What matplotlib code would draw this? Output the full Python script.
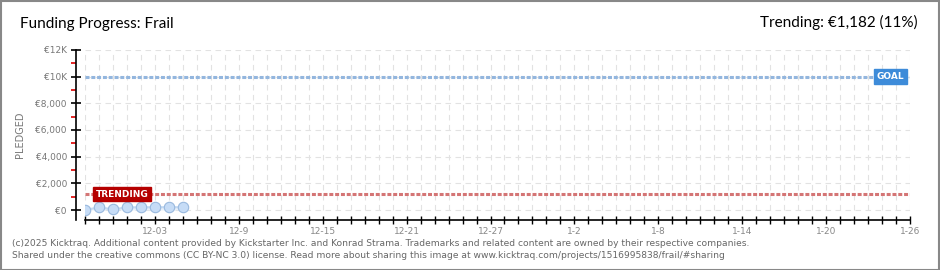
import matplotlib
matplotlib.use("Agg")
import matplotlib.pyplot as plt
from matplotlib.patches import Rectangle
import numpy as np

# campaign days (0 = 11-28), 59 days total shown
n_days = 59
pledged_days = [0, 1, 2, 3, 4, 5, 6, 7]
pledged = [0, 200, 50, 200, 200, 210, 210, 210]
goal = 10000
trending = 1182

label_days = [5, 11, 17, 23, 29, 35, 41, 47, 53, 59]
label_text = ["12-03", "12-9", "12-15", "12-21", "12-27", "1-2", "1-8", "1-14", "1-20", "1-26"]
ytick_vals = [0, 2000, 4000, 6000, 8000, 10000, 12000]
ytick_text = ["€0", "€2,000", "€4,000", "€6,000", "€8,000", "€10K", "€12K"]

W, H = 940, 270
fig = plt.figure(figsize=(W / 100, H / 100), dpi=100)
fig.patch.set_facecolor("white")

# plot area in pixel terms
x0, x1 = 85, 910
ytop, ybot = 50, 220
ax = fig.add_axes([x0 / W, (H - ybot) / H, (x1 - x0) / W, (ybot - ytop) / H])
ax.set_xlim(0, n_days)
ax.set_ylim(-750, 12000)
ax.set_facecolor("white")

# grid
grid_kw = dict(color="#e2e2e2", lw=0.8, dashes=(5, 4), zorder=0)
for d in range(n_days + 1):
    ax.plot([d, d], [0, 12000], **grid_kw)
for v in ytick_vals:
    ax.plot([0, n_days], [v, v], **grid_kw)

# goal / trending lines
ax.plot([0, n_days], [goal, goal], color="#93b6de", lw=2.2, dashes=(1.3, 0.6), zorder=2)
ax.plot([0, n_days], [trending, trending], color="#d47575", lw=2.2, dashes=(1.3, 0.6), zorder=2)

# pledged series
ax.fill_between(pledged_days, 0, pledged, color="#dbe8f7", alpha=0.6, zorder=3, lw=0)
ax.plot(pledged_days, pledged, color="#c4d9f1", lw=1.5, zorder=4)
ax.plot(pledged_days, pledged, "o", ms=7.5, mfc="#c6dcf6", mec="#99b9de", mew=0.8, zorder=5)

# labels on lines
ax.text(0.75, trending, "TRENDING", color="white", fontsize=6.5, fontweight="bold",
        ha="left", va="center", zorder=6,
        bbox=dict(boxstyle="square,pad=0.3", fc="#b50000", ec="#b50000"))
ax.text(n_days - 0.4, goal, "GOAL", color="white", fontsize=6.5, fontweight="bold",
        ha="right", va="center", zorder=6,
        bbox=dict(boxstyle="square,pad=0.3", fc="#3d8bd9", ec="#3d8bd9"))

# axes styling
for s in ["top", "right"]:
    ax.spines[s].set_visible(False)
ax.spines["left"].set_position(("outward", 6.5))
ax.spines["left"].set_linewidth(1.2)
ax.spines["bottom"].set_linewidth(1.2)

ax.set_yticks(ytick_vals)
ax.set_yticklabels(ytick_text)
ax.set_yticks(np.arange(1000, 12000, 2000), minor=True)
ax.tick_params(axis="y", which="major", direction="inout", length=7, width=1.2,
               colors="black", labelcolor="#777777", labelsize=6.5, pad=3)
ax.tick_params(axis="y", which="minor", direction="out", length=3.5, width=1.2,
               color="#dd0000")

ax.set_xticks(range(n_days + 1))
ax.set_xticklabels([""] * (n_days + 1))
ax.tick_params(axis="x", which="major", direction="inout", length=6, width=1,
               colors="black")
for d, t in zip(label_days, label_text):
    ax.annotate(t, (d, -750), xytext=(0, -5), textcoords="offset points",
                ha="center", va="top", fontsize=6.5, color="#888888")
ax.set_ylabel("PLEDGED", fontsize=7, color="#777777")
ax.yaxis.set_label_coords(-60 / (x1 - x0), 0.5)

# titles
fig.text(20 / W, 1 - 24 / H, "Funding Progress: Frail", fontsize=11, family="Lato",
         color="black", va="center", ha="left")
fig.text(918 / W, 1 - 22 / H, "Trending: €1,182 (11%)", fontsize=11, family="Lato",
         color="black", va="center", ha="right")

# footer
fig.text(12 / W, 1 - 243 / H,
         "(c)2025 Kicktraq. Additional content provided by Kickstarter Inc. and Konrad Strama. "
         "Trademarks and related content are owned by their respective companies.",
         fontsize=6.6, color="#666666", va="center", ha="left")
fig.text(12 / W, 1 - 256 / H,
         "Shared under the creative commons (CC BY-NC 3.0) license. Read more about sharing this "
         "image at www.kicktraq.com/projects/1516995838/frail/#sharing",
         fontsize=6.6, color="#666666", va="center", ha="left")

# outer frame
fig.patches.append(Rectangle((0.5 / W, 0.5 / H), 1 - 2 / W, 1 - 1.5 / H,
                             transform=fig.transFigure, fill=False,
                             ec="#888888", lw=1.5))

fig.savefig("out.png", dpi=100)
